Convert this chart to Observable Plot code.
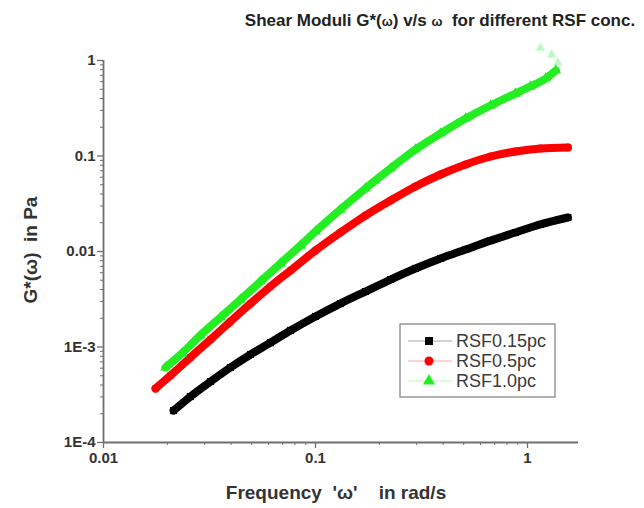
<!DOCTYPE html>
<html><head><meta charset="utf-8">
<script src="https://cdn.jsdelivr.net/npm/d3@7"></script>
<script src="https://cdn.jsdelivr.net/npm/@observablehq/plot@0.6"></script>
<style>
body{margin:0;background:#fff;font-family:"Liberation Sans",Arial,sans-serif;}
#wrap{position:relative;width:644px;height:508px;overflow:hidden;}
#title{position:absolute;top:11px;left:440px;transform:translateX(-50%);white-space:pre;font-weight:bold;font-size:17px;color:#222;}
#chart{position:absolute;top:38px;left:0;}
</style></head><body>
<div id="wrap"><div id="title">Shear Moduli G*(<span style="font-size:13px">ω</span>) v/s <span style="font-size:13px">ω</span>  for different RSF conc.</div><div id="chart"></div></div>
<script>
// ---- data ----
const seriesNames = ["RSF0.15pc", "RSF0.5pc", "RSF1.0pc"];
const seriesColors = ["#000000", "#ff0000", "#22ee22"];
const seriesSymbols = ["square", "circle", "triangle"];

const freq015 = [0.0214,0.0257,0.0320,0.0397,0.0494,0.0613,0.0762,0.100,0.131,0.172,0.226,0.296,0.389,0.511,0.669,0.877,1.15,1.55];
const g015    = [2.16e-4,3.03e-4,4.35e-4,6.10e-4,8.35e-4,1.11e-3,1.49e-3,2.09e-3,2.85e-3,3.81e-3,5.09e-3,6.64e-3,8.45e-3,0.0105,0.0130,0.0158,0.0192,0.0227];

const freq05 = [0.0176,0.0207,0.0257,0.0320,0.0397,0.0494,0.0613,0.0762,0.100,0.131,0.172,0.226,0.296,0.389,0.511,0.669,0.877,1.15,1.55];
const g05    = [3.67e-4,5.03e-4,7.76e-4,1.20e-3,1.85e-3,2.85e-3,4.30e-3,6.32e-3,0.01024,0.0158,0.0238,0.0342,0.0480,0.0640,0.0815,0.0988,0.1115,0.120,0.123];

const freq10 = [0.0196,0.0234,0.0286,0.0356,0.0443,0.0550,0.0683,0.0849,0.100,0.131,0.172,0.226,0.296,0.389,0.511,0.669,0.877,1.03,1.22,1.36];
const g10    = [6.10e-4,8.55e-4,1.32e-3,2.04e-3,3.14e-3,4.85e-3,7.48e-3,0.01155,0.0162,0.0275,0.0457,0.0740,0.117,0.172,0.247,0.338,0.451,0.534,0.648,0.786];

const scatter10F = [1.39, 1.30, 1.15];
const scatter10G = [0.95, 1.15, 1.35];

const xTicks = [0.01, 0.1, 1];
const xTickLabels = ["0.01", "0.1", "1"];
const yTicks = [1e-4, 1e-3, 0.01, 0.1, 1];
const yTickLabels = ["1E-4", "1E-3", "0.01", "0.1", "1"];

const xLabel = "Frequency  '\u03c9'    in rad/s";
const yLabel = "G*(\u03c9)  in Pa";

// ---- build table ----
const freqs = [freq015, freq05, freq10];
const gs = [g015, g05, g10];
const rows = [];
seriesNames.forEach((name, s) => freqs[s].forEach((f, i) => rows.push({series: name, f, g: gs[s][i]})));
const scatterRows = scatter10F.map((f, i) => ({f, g: scatter10G[i]}));

// minor ticks (every integer multiple within each decade)
const minor = (lo, hi) => { const out = []; for (let e = lo; e < hi; e++) for (let k = 2; k <= 9; k++) out.push(k * Math.pow(10, e)); return out; };
const xMinor = minor(-2, 1).filter(v => v <= 1.74);
const yMinor = minor(-4, 0);

const axisColor = "#6f6f6f";
const marks = [
  Plot.axisX(xMinor, {tickSize: 3, tickFormat: () => "", stroke: axisColor, label: null}),
  Plot.axisY(yMinor, {tickSize: 3, tickFormat: () => "", stroke: axisColor, label: null}),
  Plot.axisX(xTicks, {tickSize: 6, tickPadding: 4, tickFormat: d => xTickLabels[xTicks.indexOf(d)], stroke: axisColor, strokeWidth: 1.3, fill: "#333", fontSize: 15, fontWeight: "bold", label: null}),
  Plot.axisY(yTicks, {tickSize: 6, tickPadding: 2, tickFormat: d => yTickLabels[yTicks.indexOf(d)], stroke: axisColor, strokeWidth: 1.3, fill: "#333", fontSize: 15, fontWeight: "bold", label: null}),
  Plot.ruleY([1e-4], {stroke: axisColor, strokeWidth: 1.8}),
  Plot.ruleX([0.01], {stroke: axisColor, strokeWidth: 1.8}),
];
seriesNames.forEach((name, s) => {
  const d = rows.filter(r => r.series === name);
  marks.push(Plot.line(d, {x: "f", y: "g", stroke: seriesColors[s], strokeWidth: 8, strokeLinecap: "round", curve: "monotone-x"}));
  marks.push(Plot.dot(d, {x: "f", y: "g", symbol: seriesSymbols[s], fill: seriesColors[s], r: 4}));
});
marks.push(Plot.dot(scatterRows, {x: "f", y: "g", symbol: "triangle", fill: seriesColors[2], fillOpacity: 0.3, r: 3.5}));

const chart = Plot.plot({
  width: 644, height: 470,
  marginLeft: 103, marginRight: 66, marginTop: 22, marginBottom: 66,
  style: {background: "#fff", fontFamily: "Liberation Sans, Arial, sans-serif", overflow: "visible"},
  x: {type: "log", domain: [0.01, 1.74], axis: null},
  y: {type: "log", domain: [1e-4, 1], axis: null},
  marks
});
document.getElementById("chart").appendChild(chart);

// ---- axis titles and legend ----
const svg = d3.select(chart);
svg.append("text").attr("x", 336).attr("y", 461).attr("text-anchor", "middle")
  .attr("font-size", 19).attr("font-weight", "bold").attr("fill", "#333")
  .style("white-space", "pre").text(xLabel);
svg.append("text").attr("transform", "translate(37,212) rotate(-90)").attr("text-anchor", "middle")
  .attr("font-size", 19).attr("font-weight", "bold").attr("fill", "#333")
  .style("white-space", "pre").text(yLabel);

const lg = svg.append("g").attr("text-anchor", "start");
lg.append("rect").attr("x", 400).attr("y", 286).attr("width", 155).attr("height", 73)
  .attr("fill", "#fff").attr("stroke", "#888").attr("stroke-width", 1.3);
const symMap = {square: d3.symbolSquare, circle: d3.symbolCircle, triangle: d3.symbolTriangle};
seriesNames.forEach((name, i) => {
  const cy = 303 + i * 20;
  lg.append("line").attr("x1", 408).attr("x2", 452).attr("y1", cy).attr("y2", cy)
    .attr("stroke", seriesColors[i]).attr("stroke-opacity", 0.35).attr("stroke-width", 1.2);
  lg.append("path").attr("d", d3.symbol(symMap[seriesSymbols[i]], 64)()).attr("transform", `translate(429,${cy})`)
    .attr("fill", seriesColors[i]);
  lg.append("text").attr("x", 456).attr("y", cy).attr("dy", "0.36em").attr("font-size", 18)
    .attr("text-anchor", "start").attr("fill", "#3a3a3a").text(name);
});
</script>
</body></html>
